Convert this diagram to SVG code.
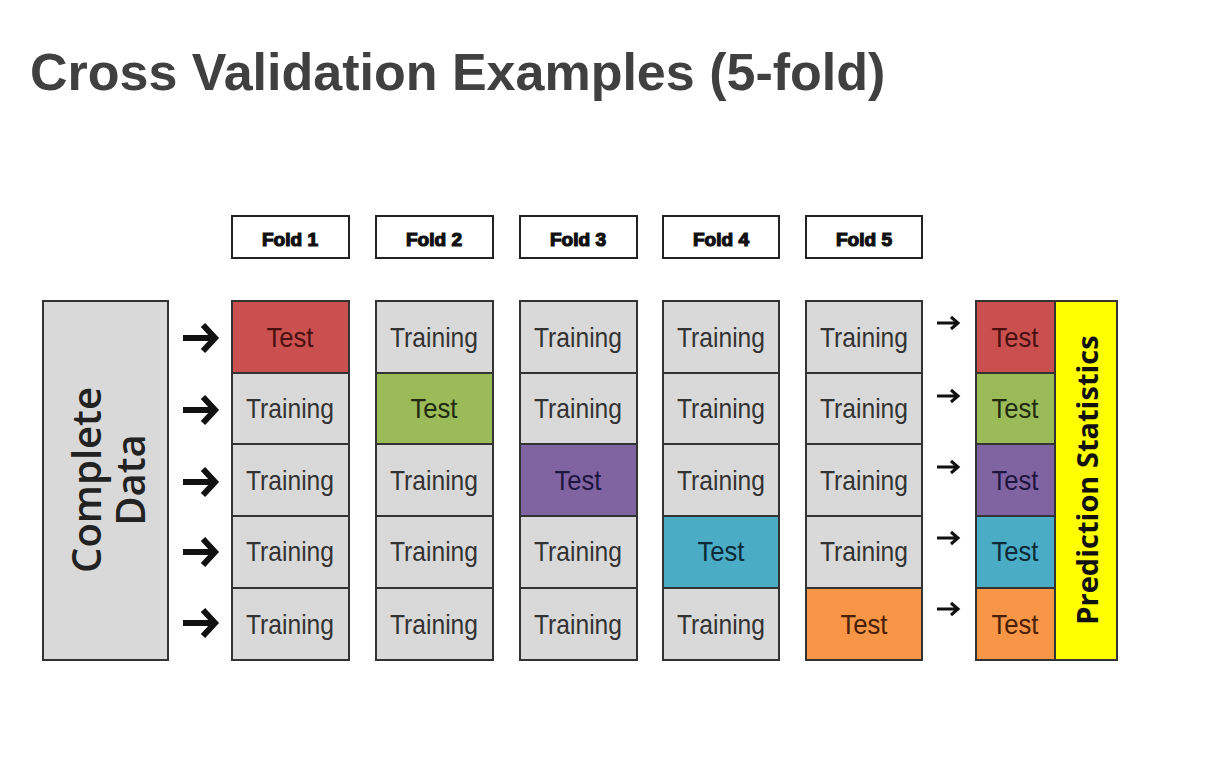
<svg xmlns="http://www.w3.org/2000/svg" width="1206" height="775" viewBox="0 0 1206 775">
<style>
.cell{stroke:#333;stroke-width:2}
.gray{fill:#d9d9d9}
.t{font-family:"Liberation Sans",Arial,sans-serif;font-size:28px;text-anchor:middle;fill:#333}
.hd{fill:#fff;stroke:#222;stroke-width:2}
.ht{font-family:"Liberation Sans",Arial,sans-serif;font-size:18px;font-weight:bold;text-anchor:middle;fill:#111;stroke:#111;stroke-width:1.2}
.big{fill:none;stroke:#111;stroke-width:6;stroke-linecap:butt}
.sm{fill:none;stroke:#111;stroke-width:3}
</style>
<rect width="1206" height="775" fill="#fff"/>
<text x="30" y="90" font-family="Liberation Sans,Arial,sans-serif" font-size="52" font-weight="bold" fill="#404040">Cross Validation Examples (5-fold)</text>

<g id="complete-data">
<rect x="43" y="301" width="125" height="359" class="cell gray"/>
<text transform="translate(101,480) rotate(-90)" font-family="Open Sans,Liberation Sans,sans-serif" font-size="40" font-weight="600" fill="#222" text-anchor="middle">Complete</text>
<text transform="translate(145,480) rotate(-90)" font-family="Open Sans,Liberation Sans,sans-serif" font-size="40" font-weight="600" fill="#222" text-anchor="middle">Data</text>
</g>

<g id="fold-headers">
<g id="h1"><rect x="232" y="216" width="117" height="42" class="hd"/><text x="290" y="246" class="ht" textLength="56" lengthAdjust="spacingAndGlyphs">Fold 1</text></g>
<g id="h2"><rect x="376" y="216" width="117" height="42" class="hd"/><text x="434" y="246" class="ht" textLength="56" lengthAdjust="spacingAndGlyphs">Fold 2</text></g>
<g id="h3"><rect x="520" y="216" width="117" height="42" class="hd"/><text x="578" y="246" class="ht" textLength="56" lengthAdjust="spacingAndGlyphs">Fold 3</text></g>
<g id="h4"><rect x="663" y="216" width="116" height="42" class="hd"/><text x="721" y="246" class="ht" textLength="56" lengthAdjust="spacingAndGlyphs">Fold 4</text></g>
<g id="h5"><rect x="806" y="216" width="116" height="42" class="hd"/><text x="864" y="246" class="ht" textLength="56" lengthAdjust="spacingAndGlyphs">Fold 5</text></g>
</g>

<g id="fold1">
<rect x="232" y="301" width="117" height="72" class="cell" fill="#c9504f"/><text x="290" y="347" class="t" style="fill:#4a1010" textLength="47" lengthAdjust="spacingAndGlyphs">Test</text>
<rect x="232" y="373" width="117" height="71" class="cell gray"/><text x="290" y="418" class="t" textLength="88" lengthAdjust="spacingAndGlyphs">Training</text>
<rect x="232" y="444" width="117" height="72" class="cell gray"/><text x="290" y="490" class="t" textLength="88" lengthAdjust="spacingAndGlyphs">Training</text>
<rect x="232" y="516" width="117" height="72" class="cell gray"/><text x="290" y="561" class="t" textLength="88" lengthAdjust="spacingAndGlyphs">Training</text>
<rect x="232" y="588" width="117" height="72" class="cell gray"/><text x="290" y="634" class="t" textLength="88" lengthAdjust="spacingAndGlyphs">Training</text>
</g>
<g id="fold2">
<rect x="376" y="301" width="117" height="72" class="cell gray"/><text x="434" y="347" class="t" textLength="88" lengthAdjust="spacingAndGlyphs">Training</text>
<rect x="376" y="373" width="117" height="71" class="cell" fill="#9bbb59"/><text x="434" y="418" class="t" style="fill:#1f2a10" textLength="47" lengthAdjust="spacingAndGlyphs">Test</text>
<rect x="376" y="444" width="117" height="72" class="cell gray"/><text x="434" y="490" class="t" textLength="88" lengthAdjust="spacingAndGlyphs">Training</text>
<rect x="376" y="516" width="117" height="72" class="cell gray"/><text x="434" y="561" class="t" textLength="88" lengthAdjust="spacingAndGlyphs">Training</text>
<rect x="376" y="588" width="117" height="72" class="cell gray"/><text x="434" y="634" class="t" textLength="88" lengthAdjust="spacingAndGlyphs">Training</text>
</g>
<g id="fold3">
<rect x="520" y="301" width="117" height="72" class="cell gray"/><text x="578" y="347" class="t" textLength="88" lengthAdjust="spacingAndGlyphs">Training</text>
<rect x="520" y="373" width="117" height="71" class="cell gray"/><text x="578" y="418" class="t" textLength="88" lengthAdjust="spacingAndGlyphs">Training</text>
<rect x="520" y="444" width="117" height="72" class="cell" fill="#8064a2"/><text x="578" y="490" class="t" style="fill:#1e1440" textLength="47" lengthAdjust="spacingAndGlyphs">Test</text>
<rect x="520" y="516" width="117" height="72" class="cell gray"/><text x="578" y="561" class="t" textLength="88" lengthAdjust="spacingAndGlyphs">Training</text>
<rect x="520" y="588" width="117" height="72" class="cell gray"/><text x="578" y="634" class="t" textLength="88" lengthAdjust="spacingAndGlyphs">Training</text>
</g>
<g id="fold4">
<rect x="663" y="301" width="116" height="72" class="cell gray"/><text x="721" y="347" class="t" textLength="88" lengthAdjust="spacingAndGlyphs">Training</text>
<rect x="663" y="373" width="116" height="71" class="cell gray"/><text x="721" y="418" class="t" textLength="88" lengthAdjust="spacingAndGlyphs">Training</text>
<rect x="663" y="444" width="116" height="72" class="cell gray"/><text x="721" y="490" class="t" textLength="88" lengthAdjust="spacingAndGlyphs">Training</text>
<rect x="663" y="516" width="116" height="72" class="cell" fill="#4bacc6"/><text x="721" y="561" class="t" style="fill:#0c2a38" textLength="47" lengthAdjust="spacingAndGlyphs">Test</text>
<rect x="663" y="588" width="116" height="72" class="cell gray"/><text x="721" y="634" class="t" textLength="88" lengthAdjust="spacingAndGlyphs">Training</text>
</g>
<g id="fold5">
<rect x="806" y="301" width="116" height="72" class="cell gray"/><text x="864" y="347" class="t" textLength="88" lengthAdjust="spacingAndGlyphs">Training</text>
<rect x="806" y="373" width="116" height="71" class="cell gray"/><text x="864" y="418" class="t" textLength="88" lengthAdjust="spacingAndGlyphs">Training</text>
<rect x="806" y="444" width="116" height="72" class="cell gray"/><text x="864" y="490" class="t" textLength="88" lengthAdjust="spacingAndGlyphs">Training</text>
<rect x="806" y="516" width="116" height="72" class="cell gray"/><text x="864" y="561" class="t" textLength="88" lengthAdjust="spacingAndGlyphs">Training</text>
<rect x="806" y="588" width="116" height="72" class="cell" fill="#f79646"/><text x="864" y="634" class="t" style="fill:#4a1e08" textLength="47" lengthAdjust="spacingAndGlyphs">Test</text>
</g>

<g id="results">
<rect x="1055" y="301" width="62" height="359" class="cell" fill="#ffff00"/>
<rect x="976" y="301" width="79" height="72" class="cell" fill="#c9504f"/><text x="1015" y="347" class="t" style="fill:#4a1010" textLength="47" lengthAdjust="spacingAndGlyphs">Test</text>
<rect x="976" y="373" width="79" height="71" class="cell" fill="#9bbb59"/><text x="1015" y="418" class="t" style="fill:#1f2a10" textLength="47" lengthAdjust="spacingAndGlyphs">Test</text>
<rect x="976" y="444" width="79" height="72" class="cell" fill="#8064a2"/><text x="1015" y="490" class="t" style="fill:#1e1440" textLength="47" lengthAdjust="spacingAndGlyphs">Test</text>
<rect x="976" y="516" width="79" height="72" class="cell" fill="#4bacc6"/><text x="1015" y="561" class="t" style="fill:#0c2a38" textLength="47" lengthAdjust="spacingAndGlyphs">Test</text>
<rect x="976" y="588" width="79" height="72" class="cell" fill="#f79646"/><text x="1015" y="634" class="t" style="fill:#4a1e08" textLength="47" lengthAdjust="spacingAndGlyphs">Test</text>
<rect x="976" y="301" width="141" height="359" fill="none" stroke="#333" stroke-width="2"/>
<text transform="translate(1098,480) rotate(-90)" font-family="Open Sans,Liberation Sans,sans-serif" font-size="29" font-weight="bold" fill="#111" text-anchor="middle">Prediction Statistics</text>
</g>

<g id="connectors">
<g class="big">
<path d="M183 338H214M203 325L215 338L203 351"/>
<path d="M183 410H214M203 397L215 410L203 423"/>
<path d="M183 482H214M203 469L215 482L203 495"/>
<path d="M183 552H214M203 539L215 552L203 565"/>
<path d="M183 623H214M203 610L215 623L203 636"/>
</g>
<g class="sm">
<path d="M937 323H957M951 317L958 323L951 329"/>
<path d="M937 396H957M951 390L958 396L951 402"/>
<path d="M937 467H957M951 461L958 467L951 473"/>
<path d="M937 538H957M951 532L958 538L951 544"/>
<path d="M937 609H957M951 603L958 609L951 615"/>
</g>
</g>
</svg>
